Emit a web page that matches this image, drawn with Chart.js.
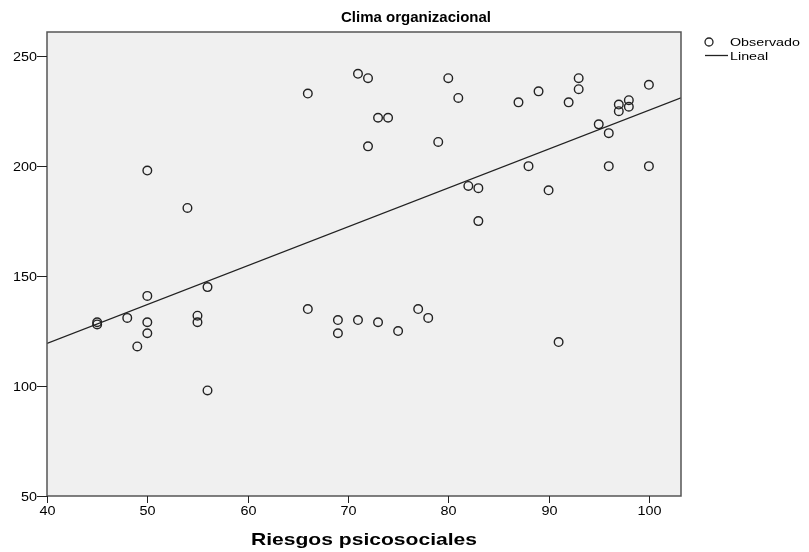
<!DOCTYPE html>
<html>
<head>
<meta charset="utf-8">
<script src="https://cdn.jsdelivr.net/npm/chart.js@4"></script>
<style>
  html, body { margin: 0; padding: 0; background: #fff; }
  #wrap { width: 809px; height: 552px; }
</style>
</head>
<body>
<div id="wrap"><canvas id="chart" width="809" height="552"></canvas></div>
<script>
// Riesgos psicosociales (x) vs Clima organizacional (y)
const riesgos = [45, 45, 48, 49, 50, 50, 50, 50, 54, 55, 55, 56, 56, 66, 66, 69, 69, 71, 71, 72, 72,
  73, 74, 73, 75, 77, 78, 79, 80, 81, 82, 83, 83, 87, 88, 89, 90, 91, 92, 93, 93, 95, 96, 96,
  97, 97, 98, 98, 100, 100];
const clima = [128, 129, 131, 118, 141, 129, 124, 198, 181, 132, 129, 145, 98, 233, 135, 130, 124, 242, 130, 240, 209,
  222, 222, 129, 125, 135, 131, 211, 240, 231, 191, 190, 175, 229, 200, 234, 189, 120, 229, 240, 235, 219, 215, 200,
  228, 225, 230, 227, 237, 200];

// linear fit: y = a + b*x
const fitCoef = [48.7, 1.767];
const fitRange = [40, 103.2];

const xTicks = [40, 50, 60, 70, 80, 90, 100];
const yTicks = [50, 100, 150, 200, 250];

const font = "'Liberation Sans', Arial, sans-serif";

const fitLine = fitRange.map(x => ({ x: x, y: fitCoef[0] + fitCoef[1] * x }));
const points = riesgos.map((x, i) => ({ x: x, y: clima[i] }));

// text drawn a bit wider than normal, like the SPSS export
function wideText(ctx, text, x, y, align, sx) {
  const w = ctx.measureText(text).width * sx;
  let left = x;
  if (align === 'center') left = x - w / 2;
  if (align === 'right') left = x - w;
  ctx.save();
  ctx.translate(left, y);
  ctx.scale(sx, 1);
  ctx.textAlign = 'left';
  ctx.fillText(text, 0, 0);
  ctx.restore();
}

const frame = {
  id: 'frame',
  beforeDatasetsDraw(chart) {
    const { ctx, chartArea: a } = chart;
    ctx.save();
    ctx.fillStyle = '#f0f0f0';
    ctx.fillRect(a.left, a.top, a.right - a.left, a.bottom - a.top);
    ctx.restore();
  },
  afterDatasetsDraw(chart) {
    const { ctx, chartArea: a } = chart;
    const xs = chart.scales.x, ys = chart.scales.y;
    ctx.save();
    ctx.strokeStyle = '#555';
    ctx.lineWidth = 1.5;
    ctx.strokeRect(a.left, a.top, a.right - a.left, a.bottom - a.top);

    // tick marks + labels
    ctx.strokeStyle = '#222';
    ctx.lineWidth = 1;
    ctx.fillStyle = '#000';
    ctx.font = '12px ' + font;
    ctx.textBaseline = 'middle';
    yTicks.forEach(v => {
      const py = Math.round(ys.getPixelForValue(v)) + 0.5;
      ctx.beginPath();
      ctx.moveTo(a.left - 10, py);
      ctx.lineTo(a.left, py);
      ctx.stroke();
      wideText(ctx, String(v), a.left - 10, py + 1, 'right', 1.2);
    });
    xTicks.forEach(v => {
      const px = Math.round(xs.getPixelForValue(v)) + 0.5;
      ctx.beginPath();
      ctx.moveTo(px, a.bottom);
      ctx.lineTo(px, a.bottom + 7);
      ctx.stroke();
      wideText(ctx, String(v), px, a.bottom + 16, 'center', 1.2);
    });

    // titles
    ctx.font = 'bold 15px ' + font;
    ctx.textBaseline = 'alphabetic';
    wideText(ctx, 'Clima organizacional', 416, 22, 'center', 1);
    ctx.font = 'bold 17px ' + font;
    wideText(ctx, 'Riesgos psicosociales', (a.left + a.right) / 2, 545, 'center', 1.24);

    // legend
    ctx.font = '11px ' + font;
    ctx.textBaseline = 'middle';
    ctx.lineWidth = 1.3;
    ctx.beginPath();
    ctx.arc(709, 42, 4, 0, Math.PI * 2);
    ctx.stroke();
    wideText(ctx, 'Observado', 730, 43, 'left', 1.3);
    ctx.beginPath();
    ctx.moveTo(705, 55.5);
    ctx.lineTo(728, 55.5);
    ctx.stroke();
    wideText(ctx, 'Lineal', 730, 57, 'left', 1.3);
    ctx.restore();
  }
};

new Chart(document.getElementById('chart'), {
  type: 'scatter',
  data: {
    datasets: [
      {
        label: 'Observado',
        data: points,
        pointStyle: 'circle',
        pointRadius: 4.3,
        pointHoverRadius: 4.3,
        borderWidth: 1.4,
        borderColor: '#222',
        backgroundColor: 'rgba(0,0,0,0)'
      },
      {
        label: 'Lineal',
        type: 'line',
        data: fitLine,
        borderColor: '#222',
        borderWidth: 1.4,
        pointRadius: 0,
        fill: false
      }
    ]
  },
  plugins: [frame],
  options: {
    responsive: false,
    animation: false,
    layout: { padding: { top: 32, right: 128, left: 0, bottom: 0 } },
    plugins: {
      legend: { display: false },
      tooltip: { enabled: false },
      title: { display: false }
    },
    scales: {
      x: {
        type: 'linear',
        min: fitRange[0],
        max: fitRange[1],
        afterBuildTicks: s => { s.ticks = xTicks.map(v => ({ value: v })); },
        afterFit: s => { s.height = 56; },
        border: { display: false },
        grid: { display: false },
        ticks: { display: false }
      },
      y: {
        type: 'linear',
        min: 50,
        max: 261,
        afterBuildTicks: s => { s.ticks = yTicks.map(v => ({ value: v })); },
        afterFit: s => { s.width = 47; },
        border: { display: false },
        grid: { display: false },
        ticks: { display: false }
      }
    }
  }
});
</script>
</body>
</html>
